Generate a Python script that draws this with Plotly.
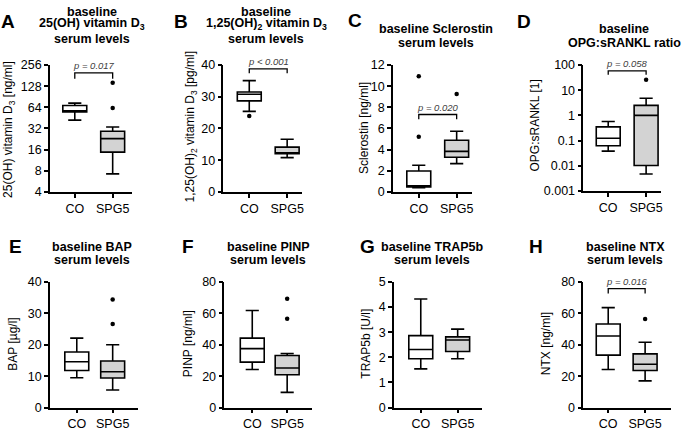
import math
import plotly.graph_objects as go

W, H = 685, 433
FONT = "Liberation Sans"

groups = ["CO", "SPG5"]

# ---- data ----
A_q1 = [55.0, 14.7]; A_med = [57.0, 22.9]; A_q3 = [68.0, 29.2]; A_lo = [42.0, 7.2]; A_hi = [73.5, 33.6]
A_out_x = ["SPG5", "SPG5"]; A_out_y = [143.0, 62.7]
B_q1 = [28.7, 12.0]; B_med = [30.8, 12.3]; B_q3 = [31.5, 14.1]; B_lo = [25.4, 10.8]; B_hi = [35.1, 16.6]
B_out_x = ["CO"]; B_out_y = [23.9]
C_q1 = [0.47, 3.28]; C_med = [0.56, 3.83]; C_q3 = [1.97, 4.88]; C_lo = [0.38, 2.67]; C_hi = [2.52, 5.73]
C_out_x = ["CO", "CO", "SPG5"]; C_out_y = [10.93, 5.21, 9.25]
D_q1 = [0.062, 0.0102]; D_med = [0.123, 1.0]; D_q3 = [0.35, 2.5]; D_lo = [0.038, 0.0047]; D_hi = [0.57, 4.8]
D_out_x = ["SPG5"]; D_out_y = [26.0]
E_q1 = [11.8, 9.4]; E_med = [14.6, 11.4]; E_q3 = [17.7, 14.8]; E_lo = [9.5, 5.6]; E_hi = [22.1, 20.0]
E_out_x = ["SPG5", "SPG5"]; E_out_y = [34.4, 26.6]
F_q1 = [28.9, 20.9]; F_med = [37.5, 25.2]; F_q3 = [44.2, 33.1]; F_lo = [24.2, 9.7]; F_hi = [61.8, 34.4]
F_out_x = ["SPG5", "SPG5"]; F_out_y = [69.2, 56.5]
G_q1 = [1.94, 2.23]; G_med = [2.31, 2.69]; G_q3 = [2.86, 2.81]; G_lo = [1.54, 1.94]; G_hi = [4.32, 3.12]
G_out_x = []; G_out_y = []
H_q1 = [33.4, 23.6]; H_med = [45.5, 27.6]; H_q3 = [53.2, 34.2]; H_lo = [24.2, 17.0]; H_hi = [63.6, 41.6]
H_out_x = ["SPG5"]; H_out_y = [56.3]

# p-value brackets: (text, bracket level, tick end)
A_p = ("p = 0.017", 198, 164)
B_p = ("p < 0.001", 38.8, 37.4)
C_p = ("p = 0.020", 7.32, 6.86)
D_p = ("p = 0.058", 59, 41)
H_p = ("p = 0.016", 75.7, 72.6)

A_ticks = [4, 8, 16, 32, 64, 128, 256]
D_ticks = [0.001, 0.01, 0.1, 1, 10, 100]
D_ticktext = ["0.001", "0.01", "0.1", "1", "10", "100"]

panels = [
    dict(k="A", q1=A_q1, med=A_med, q3=A_q3, lo=A_lo, hi=A_hi, ox=A_out_x, oy=A_out_y, p=A_p,
         log=True, yr=(4, 256), ticks=A_ticks, ticktext=[str(t) for t in A_ticks],
         g=(50, 132, 75, 113, 60, 191),
         title=["baseline", "25(OH) vitamin D<sub>3</sub>", "serum levels"], tx=92, ty=[5, 18, 33], lx=8, ly=15,
         ytitle="25(OH) vitamin D<sub>3</sub> [ng/ml]", yx=9, yy=126),
    dict(k="B", q1=B_q1, med=B_med, q3=B_q3, lo=B_lo, hi=B_hi, ox=B_out_x, oy=B_out_y, p=B_p,
         log=False, yr=(0, 40), dtick=10,
         g=(224, 303, 250, 288, 60, 191),
         title=["baseline", "1,25(OH)<sub>2</sub> vitamin D<sub>3</sub>", "serum levels"], tx=267, ty=[5, 18, 33], lx=182, ly=15,
         ytitle="1,25(OH)<sub>2</sub> vitamin D<sub>3</sub> [pg/ml]", yx=192, yy=124),
    dict(k="C", q1=C_q1, med=C_med, q3=C_q3, lo=C_lo, hi=C_hi, ox=C_out_x, oy=C_out_y, p=C_p,
         log=False, yr=(0, 12), dtick=2,
         g=(394, 473, 420, 458, 60, 191),
         title=["baseline Sclerostin", "serum levels"], tx=437, ty=[23, 37], lx=356, ly=14,
         ytitle="Sclerostin [ng/ml]", yx=365, yy=125),
    dict(k="D", q1=D_q1, med=D_med, q3=D_q3, lo=D_lo, hi=D_hi, ox=D_out_x, oy=D_out_y, p=D_p,
         log=True, yr=(0.001, 100), ticks=D_ticks, ticktext=D_ticktext,
         g=(585, 663, 610, 648, 60, 190),
         title=["baseline", "OPG:sRANKL ratio"], tx=626, ty=[23, 37], lx=526, ly=15,
         ytitle="OPG:sRANKL [1]", yx=537, yy=122),
    dict(k="E", q1=E_q1, med=E_med, q3=E_q3, lo=E_lo, hi=E_hi, ox=E_out_x, oy=E_out_y, p=None,
         log=False, yr=(0, 40), dtick=10,
         g=(50, 138, 77, 113, 284, 414),
         title=["baseline BAP", "serum levels"], tx=92, ty=[248, 261], lx=16, ly=247,
         ytitle="BAP [µg/l]", yx=13, yy=348),
    dict(k="F", q1=F_q1, med=F_med, q3=F_q3, lo=F_lo, hi=F_hi, ox=F_out_x, oy=F_out_y, p=None,
         log=False, yr=(0, 80), dtick=20,
         g=(225, 313, 253, 288, 284, 414),
         title=["baseline PINP", "serum levels"], tx=269, ty=[248, 261], lx=189, ly=247,
         ytitle="PINP [ng/ml]", yx=188, yy=348),
    dict(k="G", q1=G_q1, med=G_med, q3=G_q3, lo=G_lo, hi=G_hi, ox=G_out_x, oy=G_out_y, p=None,
         log=False, yr=(0, 5), dtick=1,
         g=(395, 483, 422, 459, 284, 414),
         title=["baseline TRAP5b", "serum levels"], tx=433, ty=[248, 261], lx=369, ly=247,
         ytitle="TRAP5b [U/l]", yx=367, yy=348),
    dict(k="H", q1=H_q1, med=H_med, q3=H_q3, lo=H_lo, hi=H_hi, ox=H_out_x, oy=H_out_y, p=H_p,
         log=False, yr=(0, 80), dtick=20,
         g=(585, 673, 610, 647, 284, 414),
         title=["baseline NTX", "serum levels"], tx=627, ty=[248, 261], lx=538, ly=247,
         ytitle="NTX [ng/ml]", yx=547, yy=348),
]

fig = go.Figure()
annotations = []
fills = ["white", "#d3d3d3"]

for i, P in enumerate(panels):
    n = "" if i == 0 else str(i + 1)
    xa, ya = "x" + n, "y" + n
    x0, x1, co, sg, top, bot = P["g"]
    sp = sg - co
    bw = 24.0 / sp
    for j, grp in enumerate(groups):
        fig.add_trace(go.Box(
            x=[grp], q1=[P["q1"][j]], median=[P["med"][j]], q3=[P["q3"][j]],
            lowerfence=[P["lo"][j]], upperfence=[P["hi"][j]],
            fillcolor=fills[j], line=dict(color="black", width=1.6),
            width=bw, whiskerwidth=0.55, boxpoints=False, hoverinfo="skip",
            xaxis=xa, yaxis=ya, showlegend=False))
    if P["ox"]:
        fig.add_trace(go.Scatter(x=P["ox"], y=P["oy"], mode="markers",
                                 marker=dict(color="black", size=4.5),
                                 xaxis=xa, yaxis=ya, showlegend=False, cliponaxis=False,
                                 hoverinfo="skip"))
    if P["p"]:
        txt, lev, end = P["p"]
        fig.add_trace(go.Scatter(x=["CO", "CO", "SPG5", "SPG5"], y=[end, lev, lev, end],
                                 mode="lines", line=dict(color="black", width=1.3),
                                 xaxis=xa, yaxis=ya, showlegend=False, hoverinfo="skip"))
        annotations.append(dict(x=0.5, y=math.log10(lev) if P["log"] else lev, xref=xa, yref=ya,
                                text="<i>" + txt + "</i>", showarrow=False, xanchor="center", yanchor="middle",
                                yshift=7.5,
                                font=dict(family=FONT, size=9.5, color="#404040")))

    xkey = "xaxis" + n
    ykey = "yaxis" + n
    xaxis = dict(domain=[x0 / W, x1 / W], anchor=ya, type="category",
                 range=[(x0 - co) / sp, (x1 - co) / sp],
                 showline=True, linecolor="black", linewidth=1.5,
                 ticks="outside", ticklen=4, tickwidth=1.5, tickcolor="black",
                 showgrid=False, zeroline=False,
                 tickfont=dict(family=FONT, size=12.5, color="black"))
    yaxis = dict(domain=[1 - bot / H, 1 - top / H], anchor=xa,
                 showline=True, linecolor="black", linewidth=1.5,
                 ticks="outside", ticklen=4, tickwidth=1.5, tickcolor="black",
                 showgrid=False, zeroline=False,
                 tickfont=dict(family=FONT, size=12.5, color="black"))
    if P["log"]:
        yaxis.update(type="log", range=[math.log10(P["yr"][0]), math.log10(P["yr"][1])],
                     tickmode="array", tickvals=P["ticks"], ticktext=P["ticktext"])
    else:
        yaxis.update(range=list(P["yr"]), dtick=P["dtick"], tick0=0)
    fig.layout[xkey] = xaxis
    fig.layout[ykey] = yaxis

    # panel letter
    annotations.append(dict(x=P["lx"] / W, y=1 - P["ly"] / H, xref="paper", yref="paper",
                            text="<b>" + P["k"] + "</b>", showarrow=False, xanchor="center", yanchor="middle",
                            font=dict(family=FONT, size=19, color="black")))
    # title lines
    for line, yy in zip(P["title"], P["ty"]):
        annotations.append(dict(x=P["tx"] / W, y=1 - yy / H, xref="paper", yref="paper",
                                text="<b>" + line + "</b>", showarrow=False, xanchor="center", yanchor="middle",
                                font=dict(family=FONT, size=12.5, color="black")))
    # y-axis title
    annotations.append(dict(x=P["yx"] / W, y=1 - P["yy"] / H, xref="paper", yref="paper",
                            text=P["ytitle"], showarrow=False, textangle=-90,
                            xanchor="center", yanchor="middle",
                            font=dict(family=FONT, size=12, color="black")))

fig.update_layout(width=W, height=H, margin=dict(l=0, r=0, t=0, b=0),
                  paper_bgcolor="white", plot_bgcolor="white",
                  annotations=annotations, showlegend=False, hovermode=False)

fig.write_html("out.html", config={"displayModeBar": False},
               post_script="document.body.style.margin='0px';document.body.style.overflow='hidden';")
